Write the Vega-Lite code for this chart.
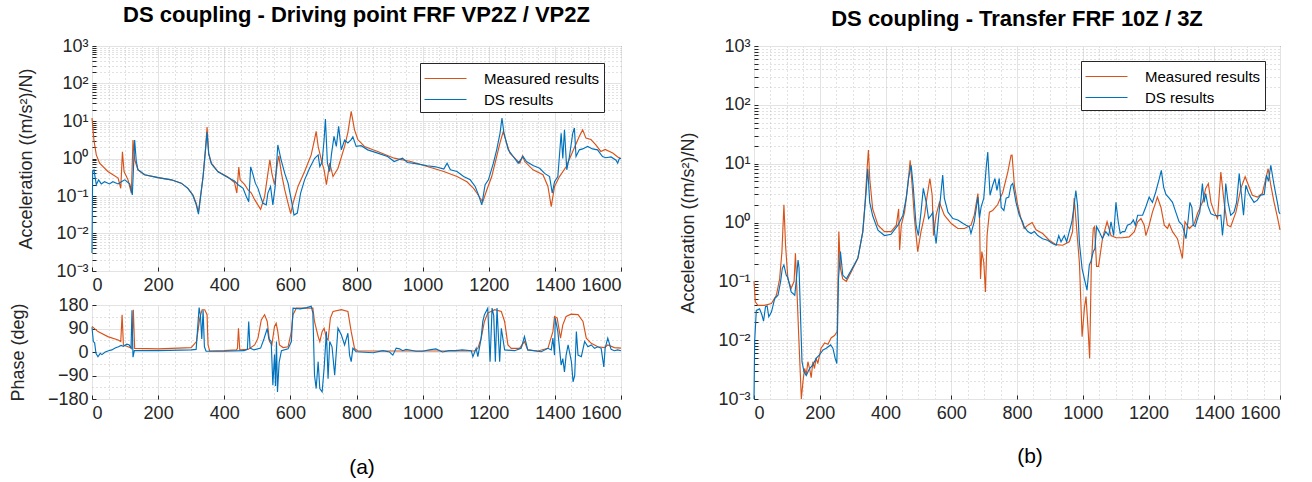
{
  "$schema": "https://vega.github.io/schema/vega-lite/v6.json",
  "background": "white",
  "padding": {"left": 8, "top": 3, "right": 0, "bottom": 0},
  "config": {
    "font": "Liberation Sans",
    "view": {"stroke": "#262626", "strokeWidth": 1},
    "axis": {"labelFontSize": 18, "labelColor": "#262626", "labelFont": "Liberation Sans", "titleFont": "Liberation Sans", "titleFontSize": 18, "titleFontWeight": "normal", "titleColor": "#262626", "domain": false, "ticks": true, "tickSize": -4, "tickColor": "#262626", "tickWidth": 1, "labelPadding": 9, "gridWidth": 1},
    "axisY": {"titlePadding": 20},
    "title": {"font": "Liberation Sans", "color": "#000000"},
    "legend": {"symbolType": "M-2,0H2", "symbolSize": 441, "symbolOffset": 10, "symbolStrokeWidth": 1.1, "labelFontSize": 15, "labelColor": "#000000", "labelOffset": 27, "rowPadding": 1, "padding": 4, "strokeColor": "#262626", "fillColor": "white", "title": null, "orient": "none"},
    "line": {"strokeWidth": 1.15, "clip": true}
  },
  "datasets": {
    "magA": [
      {"s":"M","f":0,"v":12},{"s":"M","f":6,"v":3},{"s":"M","f":13,"v":1.25},{"s":"M","f":23,"v":0.75},{"s":"M","f":48,"v":0.45},{"s":"M","f":79,"v":0.3},{"s":"M","f":87,"v":0.16},{"s":"M","f":92,"v":1.5},{"s":"M","f":97,"v":0.45},{"s":"M","f":109,"v":0.27},{"s":"M","f":119,"v":0.12},{"s":"M","f":124,"v":3.1},{"s":"M","f":129,"v":0.93},{"s":"M","f":139,"v":0.5},{"s":"M","f":159,"v":0.37},{"s":"M","f":200,"v":0.31},{"s":"M","f":240,"v":0.27},{"s":"M","f":270,"v":0.22},{"s":"M","f":290,"v":0.16},{"s":"M","f":305,"v":0.107},{"s":"M","f":315,"v":0.064},{"s":"M","f":322,"v":0.038},{"s":"M","f":336,"v":0.33},{"s":"M","f":343,"v":1.7},{"s":"M","f":348,"v":6.9},{"s":"M","f":353,"v":1.39},{"s":"M","f":361,"v":0.75},{"s":"M","f":381,"v":0.45},{"s":"M","f":411,"v":0.32},{"s":"M","f":431,"v":0.23},{"s":"M","f":438,"v":0.12},{"s":"M","f":444,"v":0.59},{"s":"M","f":448,"v":0.27},{"s":"M","f":462,"v":0.2},{"s":"M","f":472,"v":0.145},{"s":"M","f":482,"v":0.12},{"s":"M","f":492,"v":0.08},{"s":"M","f":510,"v":0.044},{"s":"M","f":522,"v":0.096},{"s":"M","f":532,"v":0.4},{"s":"M","f":538,"v":0.92},{"s":"M","f":544,"v":0.4},{"s":"M","f":552,"v":0.2},{"s":"M","f":561,"v":0.75},{"s":"M","f":565,"v":1.18},{"s":"M","f":573,"v":0.4},{"s":"M","f":583,"v":0.145},{"s":"M","f":593,"v":0.064},{"s":"M","f":601,"v":0.034},{"s":"M","f":608,"v":0.064},{"s":"M","f":623,"v":0.18},{"s":"M","f":643,"v":0.45},{"s":"M","f":663,"v":1.25},{"s":"M","f":673,"v":3.2},{"s":"M","f":678,"v":5.3},{"s":"M","f":684,"v":2.1},{"s":"M","f":696,"v":0.75},{"s":"M","f":702,"v":0.5},{"s":"M","f":709,"v":0.2},{"s":"M","f":719,"v":0.75},{"s":"M","f":729,"v":0.33},{"s":"M","f":744,"v":0.55},{"s":"M","f":764,"v":2.1},{"s":"M","f":774,"v":5},{"s":"M","f":784,"v":18},{"s":"M","f":794,"v":5.8},{"s":"M","f":804,"v":3.2},{"s":"M","f":824,"v":2.1},{"s":"M","f":864,"v":1.54},{"s":"M","f":914,"v":1.02},{"s":"M","f":964,"v":0.83},{"s":"M","f":1014,"v":0.61},{"s":"M","f":1064,"v":0.45},{"s":"M","f":1104,"v":0.33},{"s":"M","f":1134,"v":0.24},{"s":"M","f":1154,"v":0.16},{"s":"M","f":1164,"v":0.12},{"s":"M","f":1174,"v":0.087},{"s":"M","f":1182,"v":0.07},{"s":"M","f":1194,"v":0.145},{"s":"M","f":1209,"v":0.33},{"s":"M","f":1224,"v":1.13},{"s":"M","f":1234,"v":2.6},{"s":"M","f":1244,"v":5.3},{"s":"M","f":1254,"v":2.6},{"s":"M","f":1264,"v":1.39},{"s":"M","f":1284,"v":0.92},{"s":"M","f":1294,"v":0.75},{"s":"M","f":1302,"v":1.18},{"s":"M","f":1309,"v":0.83},{"s":"M","f":1334,"v":0.5},{"s":"M","f":1364,"v":0.37},{"s":"M","f":1379,"v":0.18},{"s":"M","f":1389,"v":0.052},{"s":"M","f":1399,"v":0.18},{"s":"M","f":1414,"v":0.33},{"s":"M","f":1434,"v":0.6},{"s":"M","f":1454,"v":1.54},{"s":"M","f":1474,"v":3.9},{"s":"M","f":1484,"v":5.8},{"s":"M","f":1494,"v":3.5},{"s":"M","f":1509,"v":3.2},{"s":"M","f":1524,"v":2.3},{"s":"M","f":1539,"v":1.54},{"s":"M","f":1552,"v":1.75},{"s":"M","f":1575,"v":1.4},{"s":"M","f":1590,"v":1.1},{"s":"M","f":1600,"v":1.0},
      {"s":"D","f":0,"v":0.003},{"s":"D","f":2,"v":0.45},{"s":"D","f":6,"v":0.5},{"s":"D","f":13,"v":0.2},{"s":"D","f":20,"v":0.27},{"s":"D","f":28,"v":0.21},{"s":"D","f":38,"v":0.24},{"s":"D","f":53,"v":0.21},{"s":"D","f":63,"v":0.24},{"s":"D","f":79,"v":0.21},{"s":"D","f":89,"v":0.24},{"s":"D","f":99,"v":0.27},{"s":"D","f":114,"v":0.21},{"s":"D","f":122,"v":0.107},{"s":"D","f":129,"v":3.1},{"s":"D","f":134,"v":0.83},{"s":"D","f":139,"v":0.5},{"s":"D","f":159,"v":0.37},{"s":"D","f":200,"v":0.31},{"s":"D","f":240,"v":0.27},{"s":"D","f":270,"v":0.22},{"s":"D","f":290,"v":0.16},{"s":"D","f":305,"v":0.105},{"s":"D","f":315,"v":0.06},{"s":"D","f":322,"v":0.033},{"s":"D","f":336,"v":0.33},{"s":"D","f":343,"v":1.6},{"s":"D","f":348,"v":5},{"s":"D","f":353,"v":1.3},{"s":"D","f":361,"v":0.72},{"s":"D","f":381,"v":0.44},{"s":"D","f":411,"v":0.31},{"s":"D","f":431,"v":0.25},{"s":"D","f":442,"v":0.2},{"s":"D","f":457,"v":0.16},{"s":"D","f":467,"v":0.096},{"s":"D","f":474,"v":0.07},{"s":"D","f":480,"v":0.6},{"s":"D","f":487,"v":0.37},{"s":"D","f":494,"v":0.22},{"s":"D","f":502,"v":0.16},{"s":"D","f":510,"v":0.096},{"s":"D","f":517,"v":0.064},{"s":"D","f":527,"v":0.058},{"s":"D","f":532,"v":0.12},{"s":"D","f":540,"v":0.18},{"s":"D","f":547,"v":0.058},{"s":"D","f":554,"v":0.18},{"s":"D","f":562,"v":2.3},{"s":"D","f":572,"v":0.92},{"s":"D","f":583,"v":0.4},{"s":"D","f":593,"v":0.22},{"s":"D","f":603,"v":0.078},{"s":"D","f":611,"v":0.031},{"s":"D","f":621,"v":0.035},{"s":"D","f":631,"v":0.12},{"s":"D","f":643,"v":0.27},{"s":"D","f":658,"v":0.55},{"s":"D","f":673,"v":1.0},{"s":"D","f":684,"v":1.25},{"s":"D","f":689,"v":0.61},{"s":"D","f":696,"v":0.8},{"s":"D","f":702,"v":3.2},{"s":"D","f":706,"v":11.3},{"s":"D","f":712,"v":0.75},{"s":"D","f":719,"v":0.45},{"s":"D","f":724,"v":1.25},{"s":"D","f":732,"v":3.9},{"s":"D","f":739,"v":2.1},{"s":"D","f":746,"v":7.2},{"s":"D","f":754,"v":1.7},{"s":"D","f":764,"v":3.1},{"s":"D","f":774,"v":2.6},{"s":"D","f":784,"v":3.2},{"s":"D","f":789,"v":3.8},{"s":"D","f":799,"v":2.1},{"s":"D","f":814,"v":2.2},{"s":"D","f":834,"v":1.7},{"s":"D","f":864,"v":1.39},{"s":"D","f":894,"v":1.13},{"s":"D","f":914,"v":0.83},{"s":"D","f":939,"v":1.02},{"s":"D","f":954,"v":0.78},{"s":"D","f":984,"v":0.72},{"s":"D","f":1014,"v":0.64},{"s":"D","f":1039,"v":0.6},{"s":"D","f":1064,"v":0.52},{"s":"D","f":1074,"v":0.75},{"s":"D","f":1084,"v":0.5},{"s":"D","f":1104,"v":0.45},{"s":"D","f":1124,"v":0.33},{"s":"D","f":1144,"v":0.27},{"s":"D","f":1159,"v":0.18},{"s":"D","f":1169,"v":0.107},{"s":"D","f":1179,"v":0.058},{"s":"D","f":1189,"v":0.2},{"s":"D","f":1199,"v":0.27},{"s":"D","f":1214,"v":0.75},{"s":"D","f":1224,"v":1.7},{"s":"D","f":1234,"v":4.7},{"s":"D","f":1240,"v":12},{"s":"D","f":1246,"v":4.7},{"s":"D","f":1259,"v":1.7},{"s":"D","f":1274,"v":1.13},{"s":"D","f":1289,"v":0.75},{"s":"D","f":1304,"v":1.13},{"s":"D","f":1314,"v":0.83},{"s":"D","f":1334,"v":0.65},{"s":"D","f":1354,"v":0.55},{"s":"D","f":1369,"v":0.4},{"s":"D","f":1384,"v":0.33},{"s":"D","f":1392,"v":0.12},{"s":"D","f":1399,"v":0.24},{"s":"D","f":1409,"v":0.33},{"s":"D","f":1419,"v":4.7},{"s":"D","f":1424,"v":1.0},{"s":"D","f":1429,"v":5.8},{"s":"D","f":1436,"v":0.5},{"s":"D","f":1444,"v":1.13},{"s":"D","f":1454,"v":4.7},{"s":"D","f":1459,"v":6.5},{"s":"D","f":1464,"v":1.13},{"s":"D","f":1474,"v":1.7},{"s":"D","f":1484,"v":1.8},{"s":"D","f":1499,"v":2.1},{"s":"D","f":1514,"v":1.8},{"s":"D","f":1529,"v":1.7},{"s":"D","f":1544,"v":1.13},{"s":"D","f":1554,"v":1.05},{"s":"D","f":1570,"v":1.1},{"s":"D","f":1585,"v":0.9},{"s":"D","f":1590,"v":0.75},{"s":"D","f":1595,"v":1.0},{"s":"D","f":1600,"v":1.0}
    ],
    "phA": [
      {"s":"M","f":0,"v":98},{"s":"M","f":18,"v":78},{"s":"M","f":48,"v":59},{"s":"M","f":79,"v":46},{"s":"M","f":87,"v":40},{"s":"M","f":91,"v":143},{"s":"M","f":95,"v":27},{"s":"M","f":109,"v":20},{"s":"M","f":121,"v":14},{"s":"M","f":125,"v":162},{"s":"M","f":129,"v":14},{"s":"M","f":200,"v":12},{"s":"M","f":300,"v":17},{"s":"M","f":316,"v":40},{"s":"M","f":326,"v":130},{"s":"M","f":333,"v":162},{"s":"M","f":341,"v":162},{"s":"M","f":348,"v":143},{"s":"M","f":351,"v":27},{"s":"M","f":356,"v":4},{"s":"M","f":400,"v":5},{"s":"M","f":437,"v":8},{"s":"M","f":440,"v":14},{"s":"M","f":443,"v":91},{"s":"M","f":447,"v":8},{"s":"M","f":472,"v":10},{"s":"M","f":492,"v":27},{"s":"M","f":502,"v":53},{"s":"M","f":512,"v":123},{"s":"M","f":522,"v":143},{"s":"M","f":530,"v":117},{"s":"M","f":537,"v":40},{"s":"M","f":544,"v":27},{"s":"M","f":552,"v":98},{"s":"M","f":557,"v":110},{"s":"M","f":562,"v":78},{"s":"M","f":567,"v":27},{"s":"M","f":578,"v":17},{"s":"M","f":593,"v":20},{"s":"M","f":603,"v":78},{"s":"M","f":608,"v":143},{"s":"M","f":618,"v":168},{"s":"M","f":643,"v":168},{"s":"M","f":668,"v":168},{"s":"M","f":673,"v":117},{"s":"M","f":684,"v":59},{"s":"M","f":689,"v":40},{"s":"M","f":696,"v":78},{"s":"M","f":702,"v":91},{"s":"M","f":709,"v":53},{"s":"M","f":714,"v":46},{"s":"M","f":721,"v":130},{"s":"M","f":729,"v":155},{"s":"M","f":754,"v":162},{"s":"M","f":774,"v":155},{"s":"M","f":784,"v":78},{"s":"M","f":794,"v":14},{"s":"M","f":804,"v":4},{"s":"M","f":1157,"v":4},{"s":"M","f":1167,"v":14},{"s":"M","f":1177,"v":53},{"s":"M","f":1187,"v":117},{"s":"M","f":1197,"v":149},{"s":"M","f":1218,"v":162},{"s":"M","f":1238,"v":155},{"s":"M","f":1248,"v":117},{"s":"M","f":1258,"v":27},{"s":"M","f":1268,"v":14},{"s":"M","f":1293,"v":14},{"s":"M","f":1308,"v":40},{"s":"M","f":1318,"v":8},{"s":"M","f":1349,"v":4},{"s":"M","f":1379,"v":14},{"s":"M","f":1394,"v":78},{"s":"M","f":1399,"v":136},{"s":"M","f":1407,"v":130},{"s":"M","f":1417,"v":53},{"s":"M","f":1424,"v":104},{"s":"M","f":1434,"v":136},{"s":"M","f":1449,"v":145},{"s":"M","f":1470,"v":143},{"s":"M","f":1485,"v":117},{"s":"M","f":1495,"v":53},{"s":"M","f":1510,"v":33},{"s":"M","f":1530,"v":20},{"s":"M","f":1550,"v":17},{"s":"M","f":1560,"v":27},{"s":"M","f":1580,"v":17},{"s":"M","f":1600,"v":15},
      {"s":"D","f":0,"v":95},{"s":"D","f":4,"v":40},{"s":"D","f":8,"v":35},{"s":"D","f":12,"v":-5},{"s":"D","f":18,"v":-18},{"s":"D","f":25,"v":-5},{"s":"D","f":30,"v":-10},{"s":"D","f":40,"v":0},{"s":"D","f":50,"v":5},{"s":"D","f":60,"v":8},{"s":"D","f":70,"v":15},{"s":"D","f":80,"v":20},{"s":"D","f":88,"v":25},{"s":"D","f":95,"v":22},{"s":"D","f":105,"v":30},{"s":"D","f":112,"v":28},{"s":"D","f":118,"v":15},{"s":"D","f":121,"v":160},{"s":"D","f":124,"v":-20},{"s":"D","f":128,"v":5},{"s":"D","f":200,"v":5},{"s":"D","f":300,"v":8},{"s":"D","f":315,"v":10},{"s":"D","f":320,"v":100},{"s":"D","f":324,"v":170},{"s":"D","f":328,"v":140},{"s":"D","f":332,"v":50},{"s":"D","f":336,"v":160},{"s":"D","f":340,"v":20},{"s":"D","f":345,"v":3},{"s":"D","f":400,"v":3},{"s":"D","f":460,"v":5},{"s":"D","f":470,"v":10},{"s":"D","f":474,"v":117},{"s":"D","f":478,"v":15},{"s":"D","f":490,"v":8},{"s":"D","f":510,"v":15},{"s":"D","f":520,"v":50},{"s":"D","f":530,"v":90},{"s":"D","f":535,"v":50},{"s":"D","f":542,"v":40},{"s":"D","f":547,"v":-127},{"s":"D","f":552,"v":-10},{"s":"D","f":555,"v":-130},{"s":"D","f":558,"v":40},{"s":"D","f":561,"v":-153},{"s":"D","f":566,"v":-40},{"s":"D","f":573,"v":5},{"s":"D","f":593,"v":12},{"s":"D","f":603,"v":40},{"s":"D","f":608,"v":168},{"s":"D","f":630,"v":165},{"s":"D","f":650,"v":170},{"s":"D","f":663,"v":175},{"s":"D","f":668,"v":150},{"s":"D","f":673,"v":-89},{"s":"D","f":678,"v":-140},{"s":"D","f":684,"v":-37},{"s":"D","f":689,"v":-140},{"s":"D","f":696,"v":-153},{"s":"D","f":702,"v":-63},{"s":"D","f":709,"v":78},{"s":"D","f":714,"v":-102},{"s":"D","f":719,"v":40},{"s":"D","f":726,"v":20},{"s":"D","f":734,"v":-89},{"s":"D","f":744,"v":91},{"s":"D","f":754,"v":66},{"s":"D","f":764,"v":27},{"s":"D","f":774,"v":72},{"s":"D","f":779,"v":-12},{"s":"D","f":784,"v":-37},{"s":"D","f":789,"v":14},{"s":"D","f":799,"v":1},{"s":"D","f":850,"v":-3},{"s":"D","f":880,"v":5},{"s":"D","f":900,"v":0},{"s":"D","f":910,"v":-12},{"s":"D","f":920,"v":15},{"s":"D","f":930,"v":12},{"s":"D","f":940,"v":5},{"s":"D","f":950,"v":10},{"s":"D","f":980,"v":3},{"s":"D","f":1000,"v":3},{"s":"D","f":1020,"v":8},{"s":"D","f":1040,"v":12},{"s":"D","f":1060,"v":0},{"s":"D","f":1080,"v":5},{"s":"D","f":1100,"v":5},{"s":"D","f":1120,"v":8},{"s":"D","f":1147,"v":5},{"s":"D","f":1152,"v":-18},{"s":"D","f":1162,"v":14},{"s":"D","f":1167,"v":-18},{"s":"D","f":1177,"v":53},{"s":"D","f":1182,"v":117},{"s":"D","f":1187,"v":143},{"s":"D","f":1197,"v":168},{"s":"D","f":1204,"v":-37},{"s":"D","f":1210,"v":168},{"s":"D","f":1215,"v":140},{"s":"D","f":1220,"v":-37},{"s":"D","f":1225,"v":168},{"s":"D","f":1233,"v":-37},{"s":"D","f":1238,"v":91},{"s":"D","f":1248,"v":8},{"s":"D","f":1278,"v":5},{"s":"D","f":1298,"v":14},{"s":"D","f":1308,"v":59},{"s":"D","f":1318,"v":8},{"s":"D","f":1359,"v":1},{"s":"D","f":1379,"v":14},{"s":"D","f":1389,"v":8},{"s":"D","f":1394,"v":53},{"s":"D","f":1399,"v":-12},{"s":"D","f":1401,"v":130},{"s":"D","f":1409,"v":78},{"s":"D","f":1414,"v":14},{"s":"D","f":1419,"v":-50},{"s":"D","f":1424,"v":-25},{"s":"D","f":1429,"v":-76},{"s":"D","f":1434,"v":-12},{"s":"D","f":1440,"v":27},{"s":"D","f":1450,"v":-37},{"s":"D","f":1455,"v":-114},{"s":"D","f":1460,"v":-90},{"s":"D","f":1465,"v":78},{"s":"D","f":1470,"v":-12},{"s":"D","f":1480,"v":-18},{"s":"D","f":1490,"v":40},{"s":"D","f":1500,"v":20},{"s":"D","f":1510,"v":27},{"s":"D","f":1520,"v":14},{"s":"D","f":1530,"v":20},{"s":"D","f":1540,"v":14},{"s":"D","f":1548,"v":-57},{"s":"D","f":1552,"v":14},{"s":"D","f":1560,"v":53},{"s":"D","f":1570,"v":10},{"s":"D","f":1580,"v":5},{"s":"D","f":1590,"v":8},{"s":"D","f":1600,"v":5}
    ],
    "magB": [
      {"s":"M","f":0,"v":0.1},{"s":"M","f":4,"v":0.045},{"s":"M","f":12,"v":0.039},{"s":"M","f":32,"v":0.039},{"s":"M","f":53,"v":0.042},{"s":"M","f":68,"v":0.058},{"s":"M","f":78,"v":0.11},{"s":"M","f":85,"v":0.32},{"s":"M","f":91,"v":2.0},{"s":"M","f":96,"v":0.41},{"s":"M","f":103,"v":0.11},{"s":"M","f":113,"v":0.076},{"s":"M","f":122,"v":0.1},{"s":"M","f":126,"v":0.3},{"s":"M","f":130,"v":0.085},{"s":"M","f":136,"v":0.012},{"s":"M","f":141,"v":0.0026},{"s":"M","f":144,"v":0.001},{"s":"M","f":149,"v":0.002},{"s":"M","f":154,"v":0.0033},{"s":"M","f":159,"v":0.0026},{"s":"M","f":164,"v":0.0043},{"s":"M","f":169,"v":0.0033},{"s":"M","f":174,"v":0.0023},{"s":"M","f":179,"v":0.0043},{"s":"M","f":184,"v":0.0033},{"s":"M","f":189,"v":0.005},{"s":"M","f":194,"v":0.004},{"s":"M","f":204,"v":0.0073},{"s":"M","f":215,"v":0.009},{"s":"M","f":225,"v":0.0085},{"s":"M","f":235,"v":0.011},{"s":"M","f":245,"v":0.012},{"s":"M","f":253,"v":0.014},{"s":"M","f":258,"v":0.7},{"s":"M","f":263,"v":0.165},{"s":"M","f":270,"v":0.11},{"s":"M","f":281,"v":0.1},{"s":"M","f":296,"v":0.145},{"s":"M","f":316,"v":0.245},{"s":"M","f":331,"v":0.7},{"s":"M","f":338,"v":2.2},{"s":"M","f":344,"v":8.2},{"s":"M","f":348,"v":17},{"s":"M","f":352,"v":5.6},{"s":"M","f":361,"v":1.7},{"s":"M","f":377,"v":0.9},{"s":"M","f":397,"v":0.7},{"s":"M","f":417,"v":0.7},{"s":"M","f":433,"v":0.9},{"s":"M","f":440,"v":1.7},{"s":"M","f":443,"v":0.34},{"s":"M","f":448,"v":0.9},{"s":"M","f":458,"v":1.5},{"s":"M","f":468,"v":4.3},{"s":"M","f":475,"v":11.4},{"s":"M","f":481,"v":4.3},{"s":"M","f":488,"v":1.17},{"s":"M","f":498,"v":0.32},{"s":"M","f":508,"v":0.7},{"s":"M","f":519,"v":1.33},{"s":"M","f":527,"v":2.9},{"s":"M","f":535,"v":5.6},{"s":"M","f":542,"v":2.9},{"s":"M","f":546,"v":0.6},{"s":"M","f":554,"v":1.33},{"s":"M","f":564,"v":2.2},{"s":"M","f":579,"v":1.33},{"s":"M","f":600,"v":0.96},{"s":"M","f":620,"v":0.79},{"s":"M","f":640,"v":0.79},{"s":"M","f":660,"v":0.9},{"s":"M","f":670,"v":1.33},{"s":"M","f":681,"v":3.1},{"s":"M","f":686,"v":1.17},{"s":"M","f":689,"v":0.11},{"s":"M","f":693,"v":0.32},{"s":"M","f":699,"v":0.21},{"s":"M","f":704,"v":0.066},{"s":"M","f":709,"v":0.6},{"s":"M","f":716,"v":1.5},{"s":"M","f":726,"v":1.6},{"s":"M","f":741,"v":2.0},{"s":"M","f":757,"v":3.3},{"s":"M","f":772,"v":7.2},{"s":"M","f":782,"v":13.9},{"s":"M","f":785,"v":14},{"s":"M","f":792,"v":4.3},{"s":"M","f":802,"v":2.0},{"s":"M","f":812,"v":1.17},{"s":"M","f":822,"v":0.79},{"s":"M","f":833,"v":0.9},{"s":"M","f":846,"v":1.0},{"s":"M","f":858,"v":0.75},{"s":"M","f":878,"v":0.65},{"s":"M","f":898,"v":0.5},{"s":"M","f":919,"v":0.42},{"s":"M","f":939,"v":0.41},{"s":"M","f":959,"v":0.47},{"s":"M","f":969,"v":0.7},{"s":"M","f":974,"v":2.6},{"s":"M","f":979,"v":1.17},{"s":"M","f":990,"v":0.2},{"s":"M","f":998,"v":0.0114},{"s":"M","f":1005,"v":0.035},{"s":"M","f":1010,"v":0.055},{"s":"M","f":1016,"v":0.016},{"s":"M","f":1021,"v":0.0049},{"s":"M","f":1026,"v":0.18},{"s":"M","f":1032,"v":0.79},{"s":"M","f":1036,"v":0.85},{"s":"M","f":1042,"v":0.18},{"s":"M","f":1048,"v":0.18},{"s":"M","f":1060,"v":0.53},{"s":"M","f":1074,"v":1.03},{"s":"M","f":1086,"v":0.6},{"s":"M","f":1101,"v":0.55},{"s":"M","f":1121,"v":0.55},{"s":"M","f":1141,"v":0.57},{"s":"M","f":1157,"v":0.7},{"s":"M","f":1167,"v":1.03},{"s":"M","f":1177,"v":1.17},{"s":"M","f":1187,"v":0.9},{"s":"M","f":1192,"v":0.6},{"s":"M","f":1202,"v":0.9},{"s":"M","f":1212,"v":1.5},{"s":"M","f":1222,"v":2.2},{"s":"M","f":1227,"v":2.7},{"s":"M","f":1238,"v":1.8},{"s":"M","f":1248,"v":0.9},{"s":"M","f":1258,"v":0.79},{"s":"M","f":1263,"v":0.95},{"s":"M","f":1273,"v":0.7},{"s":"M","f":1288,"v":0.53},{"s":"M","f":1298,"v":0.32},{"s":"M","f":1303,"v":0.245},{"s":"M","f":1311,"v":1.03},{"s":"M","f":1324,"v":0.79},{"s":"M","f":1339,"v":0.95},{"s":"M","f":1349,"v":1.42},{"s":"M","f":1364,"v":2.2},{"s":"M","f":1374,"v":3.8},{"s":"M","f":1382,"v":4.6},{"s":"M","f":1390,"v":2.2},{"s":"M","f":1400,"v":1.5},{"s":"M","f":1410,"v":1.17},{"s":"M","f":1420,"v":7.2},{"s":"M","f":1430,"v":2.2},{"s":"M","f":1440,"v":0.9},{"s":"M","f":1450,"v":0.85},{"s":"M","f":1466,"v":1.5},{"s":"M","f":1481,"v":3.8},{"s":"M","f":1494,"v":6.0},{"s":"M","f":1504,"v":4.3},{"s":"M","f":1516,"v":2.9},{"s":"M","f":1531,"v":2.7},{"s":"M","f":1546,"v":3.1},{"s":"M","f":1557,"v":5.6},{"s":"M","f":1564,"v":8.2},{"s":"M","f":1572,"v":4.3},{"s":"M","f":1582,"v":2.2},{"s":"M","f":1592,"v":1.25},{"s":"M","f":1600,"v":0.75},
      {"s":"D","f":0,"v":0.001},{"s":"D","f":2,"v":0.0094},{"s":"D","f":7,"v":0.032},{"s":"D","f":17,"v":0.034},{"s":"D","f":24,"v":0.027},{"s":"D","f":29,"v":0.021},{"s":"D","f":35,"v":0.037},{"s":"D","f":40,"v":0.038},{"s":"D","f":45,"v":0.025},{"s":"D","f":53,"v":0.03},{"s":"D","f":63,"v":0.051},{"s":"D","f":73,"v":0.058},{"s":"D","f":81,"v":0.1},{"s":"D","f":86,"v":0.165},{"s":"D","f":91,"v":0.19},{"s":"D","f":98,"v":0.128},{"s":"D","f":103,"v":0.115},{"s":"D","f":113,"v":0.066},{"s":"D","f":124,"v":0.058},{"s":"D","f":129,"v":0.11},{"s":"D","f":134,"v":0.23},{"s":"D","f":137,"v":0.17},{"s":"D","f":142,"v":0.021},{"s":"D","f":146,"v":0.0043},{"s":"D","f":152,"v":0.0029},{"s":"D","f":159,"v":0.0025},{"s":"D","f":169,"v":0.0033},{"s":"D","f":179,"v":0.0038},{"s":"D","f":189,"v":0.0049},{"s":"D","f":199,"v":0.0056},{"s":"D","f":210,"v":0.0068},{"s":"D","f":220,"v":0.0073},{"s":"D","f":233,"v":0.0083},{"s":"D","f":240,"v":0.0073},{"s":"D","f":247,"v":0.0049},{"s":"D","f":252,"v":0.004},{"s":"D","f":257,"v":0.11},{"s":"D","f":263,"v":0.32},{"s":"D","f":270,"v":0.128},{"s":"D","f":281,"v":0.11},{"s":"D","f":296,"v":0.155},{"s":"D","f":316,"v":0.25},{"s":"D","f":331,"v":0.7},{"s":"D","f":341,"v":3.3},{"s":"D","f":346,"v":8.2},{"s":"D","f":352,"v":2.2},{"s":"D","f":361,"v":1.3},{"s":"D","f":377,"v":0.74},{"s":"D","f":397,"v":0.6},{"s":"D","f":417,"v":0.63},{"s":"D","f":438,"v":0.9},{"s":"D","f":453,"v":1.33},{"s":"D","f":463,"v":2.6},{"s":"D","f":470,"v":5.6},{"s":"D","f":478,"v":9.4},{"s":"D","f":484,"v":4.3},{"s":"D","f":493,"v":0.9},{"s":"D","f":500,"v":0.6},{"s":"D","f":508,"v":1.5},{"s":"D","f":515,"v":3.8},{"s":"D","f":524,"v":2.2},{"s":"D","f":531,"v":1.17},{"s":"D","f":539,"v":1.33},{"s":"D","f":544,"v":1.5},{"s":"D","f":549,"v":0.7},{"s":"D","f":554,"v":0.44},{"s":"D","f":562,"v":1.33},{"s":"D","f":569,"v":3.3},{"s":"D","f":574,"v":6.4},{"s":"D","f":579,"v":2.6},{"s":"D","f":590,"v":1.5},{"s":"D","f":605,"v":1.17},{"s":"D","f":620,"v":1.1},{"s":"D","f":635,"v":0.97},{"s":"D","f":645,"v":0.9},{"s":"D","f":655,"v":0.85},{"s":"D","f":660,"v":0.65},{"s":"D","f":670,"v":1.03},{"s":"D","f":681,"v":2.7},{"s":"D","f":686,"v":1.2},{"s":"D","f":691,"v":1.85},{"s":"D","f":699,"v":2.6},{"s":"D","f":706,"v":8.2},{"s":"D","f":711,"v":15.8},{"s":"D","f":718,"v":2.9},{"s":"D","f":726,"v":4.3},{"s":"D","f":733,"v":5.6},{"s":"D","f":739,"v":3.5},{"s":"D","f":746,"v":5.6},{"s":"D","f":752,"v":1.8},{"s":"D","f":760,"v":1.6},{"s":"D","f":767,"v":2.6},{"s":"D","f":775,"v":2.7},{"s":"D","f":782,"v":4.3},{"s":"D","f":787,"v":4.6},{"s":"D","f":797,"v":2.2},{"s":"D","f":807,"v":1.33},{"s":"D","f":817,"v":1.03},{"s":"D","f":822,"v":0.84},{"s":"D","f":833,"v":0.7},{"s":"D","f":843,"v":0.65},{"s":"D","f":853,"v":0.7},{"s":"D","f":863,"v":0.6},{"s":"D","f":878,"v":0.53},{"s":"D","f":893,"v":0.5},{"s":"D","f":908,"v":0.44},{"s":"D","f":919,"v":0.41},{"s":"D","f":927,"v":0.6},{"s":"D","f":934,"v":0.47},{"s":"D","f":944,"v":0.6},{"s":"D","f":951,"v":0.47},{"s":"D","f":959,"v":0.7},{"s":"D","f":967,"v":1.03},{"s":"D","f":974,"v":2.0},{"s":"D","f":979,"v":3.5},{"s":"D","f":984,"v":2.0},{"s":"D","f":990,"v":0.44},{"s":"D","f":998,"v":0.165},{"s":"D","f":1005,"v":0.11},{"s":"D","f":1013,"v":0.071},{"s":"D","f":1020,"v":0.19},{"s":"D","f":1025,"v":0.22},{"s":"D","f":1032,"v":0.32},{"s":"D","f":1037,"v":0.36},{"s":"D","f":1042,"v":0.85},{"s":"D","f":1050,"v":0.7},{"s":"D","f":1060,"v":0.53},{"s":"D","f":1070,"v":0.7},{"s":"D","f":1079,"v":0.6},{"s":"D","f":1086,"v":1.03},{"s":"D","f":1094,"v":0.6},{"s":"D","f":1101,"v":2.2},{"s":"D","f":1108,"v":1.03},{"s":"D","f":1114,"v":0.65},{"s":"D","f":1121,"v":0.7},{"s":"D","f":1128,"v":0.7},{"s":"D","f":1136,"v":0.9},{"s":"D","f":1146,"v":0.95},{"s":"D","f":1154,"v":1.1},{"s":"D","f":1160,"v":0.9},{"s":"D","f":1167,"v":1.33},{"s":"D","f":1182,"v":1.33},{"s":"D","f":1192,"v":1.85},{"s":"D","f":1202,"v":2.7},{"s":"D","f":1212,"v":2.2},{"s":"D","f":1222,"v":3.3},{"s":"D","f":1233,"v":5.6},{"s":"D","f":1239,"v":7.7},{"s":"D","f":1246,"v":4.0},{"s":"D","f":1253,"v":3.0},{"s":"D","f":1263,"v":2.6},{"s":"D","f":1273,"v":2.2},{"s":"D","f":1283,"v":1.5},{"s":"D","f":1293,"v":1.03},{"s":"D","f":1303,"v":0.9},{"s":"D","f":1314,"v":0.53},{"s":"D","f":1321,"v":1.17},{"s":"D","f":1326,"v":2.2},{"s":"D","f":1332,"v":1.8},{"s":"D","f":1336,"v":0.9},{"s":"D","f":1342,"v":0.85},{"s":"D","f":1349,"v":1.17},{"s":"D","f":1356,"v":1.5},{"s":"D","f":1364,"v":4.6},{"s":"D","f":1369,"v":2.2},{"s":"D","f":1374,"v":3.1},{"s":"D","f":1381,"v":1.9},{"s":"D","f":1390,"v":1.4},{"s":"D","f":1400,"v":1.33},{"s":"D","f":1410,"v":1.3},{"s":"D","f":1420,"v":1.33},{"s":"D","f":1425,"v":0.6},{"s":"D","f":1430,"v":1.2},{"s":"D","f":1435,"v":4.6},{"s":"D","f":1442,"v":2.2},{"s":"D","f":1450,"v":1.33},{"s":"D","f":1460,"v":1.5},{"s":"D","f":1468,"v":2.2},{"s":"D","f":1476,"v":6.8},{"s":"D","f":1483,"v":2.9},{"s":"D","f":1489,"v":1.33},{"s":"D","f":1496,"v":4.3},{"s":"D","f":1504,"v":3.2},{"s":"D","f":1511,"v":2.7},{"s":"D","f":1521,"v":2.2},{"s":"D","f":1531,"v":2.4},{"s":"D","f":1541,"v":2.9},{"s":"D","f":1552,"v":3.0},{"s":"D","f":1559,"v":6.4},{"s":"D","f":1565,"v":5.0},{"s":"D","f":1572,"v":9.4},{"s":"D","f":1582,"v":4.3},{"s":"D","f":1592,"v":2.2},{"s":"D","f":1597,"v":1.5},{"s":"D","f":1600,"v":1.4}
    ]
  },
  "resolve": {"scale": {"color": "independent"}, "legend": {"color": "independent"}},
  "align": "none",
  "spacing": 55,
  "hconcat": [
    {
      "title": {"text": "(a)", "orient": "bottom", "anchor": "middle", "frame": "group", "fontSize": 21, "fontWeight": "normal", "offset": 34, "dx": 270},
      "spacing": 0,
      "resolve": {"scale": {"color": "independent"}, "legend": {"color": "independent"}},
      "vconcat": [
        {
          "title": {"text": "DS coupling - Driving point FRF VP2Z / VP2Z", "fontSize": 22, "fontWeight": "bold", "frame": "group", "offset": 10},
          "width": 529, "height": 225,
          "data": {"name": "magA"},
          "encoding": {
            "x": {"field": "f", "type": "quantitative", "scale": {"domain": [0, 1600], "nice": false},
              "axis": {"title": null, "format": "d", "values": [0,50,100,150,200,250,300,350,400,450,500,550,600,650,700,750,800,850,900,950,1000,1050,1100,1150,1200,1250,1300,1350,1400,1450,1500,1550,1600],
                "labelExpr": "datum.value % 200 == 0 ? datum.label : ''",
                "tickOpacity": {"condition": {"test": "datum.value % 200 == 0", "value": 1}, "value": 0},
                "gridColor": {"condition": {"test": "datum.value % 200 == 0", "value": "#e3e3e3"}, "value": "#c4c4c4"},
                "gridDash": {"condition": {"test": "datum.value % 200 == 0", "value": []}, "value": [1, 3]}}},
            "y": {"field": "v", "type": "quantitative", "scale": {"type": "log", "domain": [0.001, 1000], "nice": false},
              "axis": {"title": "Acceleration ((m/s²)/N)", "labelPadding": 8, "values": [0.001,0.002,0.003,0.004,0.005,0.006,0.007,0.008,0.009,0.01,0.02,0.03,0.04,0.05,0.06,0.07,0.08,0.09,0.1,0.2,0.3,0.4,0.5,0.6,0.7,0.8,0.9,1,2,3,4,5,6,7,8,9,10,20,30,40,50,60,70,80,90,100,200,300,400,500,600,700,800,900,1000],
                "labelExpr": "abs(log(datum.value)/LN10 - round(log(datum.value)/LN10)) < 0.01 ? '10' + (round(log(datum.value)/LN10) < 0 ? '⁻' : '') + ['⁰','¹','²','³'][abs(round(log(datum.value)/LN10))] : ''",
                "gridColor": {"condition": {"test": "abs(log(datum.value)/LN10 - round(log(datum.value)/LN10)) < 0.01", "value": "#e3e3e3"}, "value": "#c4c4c4"},
                "gridDash": {"condition": {"test": "abs(log(datum.value)/LN10 - round(log(datum.value)/LN10)) < 0.01", "value": []}, "value": [1, 3]}}},
            "color": {"field": "s", "type": "nominal", "scale": {"domain": ["M", "D"], "range": ["#D95319", "#0072BD"]},
              "legend": {"legendX": 328, "legendY": 17, "labelExpr": "datum.label == 'M' ? 'Measured results' : 'DS results'"}}
          },
          "layer": [
            {"transform": [{"filter": "datum.s == 'M'"}], "mark": {"type": "line"}},
            {"transform": [{"filter": "datum.s == 'D'"}], "mark": {"type": "line"}}
          ]
        },
        {
          "width": 529, "height": 94,
          "data": {"name": "phA"},
          "encoding": {
            "x": {"field": "f", "type": "quantitative", "scale": {"domain": [0, 1600], "nice": false},
              "axis": {"title": null, "format": "d", "values": [0,50,100,150,200,250,300,350,400,450,500,550,600,650,700,750,800,850,900,950,1000,1050,1100,1150,1200,1250,1300,1350,1400,1450,1500,1550,1600],
                "labelExpr": "datum.value % 200 == 0 ? datum.label : ''",
                "tickOpacity": {"condition": {"test": "datum.value % 200 == 0", "value": 1}, "value": 0},
                "gridColor": {"condition": {"test": "datum.value % 200 == 0", "value": "#e3e3e3"}, "value": "#c4c4c4"},
                "gridDash": {"condition": {"test": "datum.value % 200 == 0", "value": []}, "value": [1, 3]}}},
            "y": {"field": "v", "type": "quantitative", "scale": {"domain": [-180, 180], "nice": false},
              "axis": {"title": "Phase (deg)", "labelPadding": 8, "format": "d", "values": [-180,-135,-90,-45,0,45,90,135,180],
                "labelExpr": "datum.value % 90 == 0 ? datum.label : ''",
                "tickOpacity": {"condition": {"test": "datum.value % 90 == 0", "value": 1}, "value": 0},
                "gridColor": {"condition": {"test": "datum.value % 90 == 0", "value": "#e3e3e3"}, "value": "#c4c4c4"},
                "gridDash": {"condition": {"test": "datum.value % 90 == 0", "value": []}, "value": [1, 3]}}},
            "color": {"field": "s", "type": "nominal", "scale": {"domain": ["M", "D"], "range": ["#D95319", "#0072BD"]}, "legend": null}
          },
          "layer": [
            {"transform": [{"filter": "datum.s == 'M'"}], "mark": {"type": "line"}},
            {"transform": [{"filter": "datum.s == 'D'"}], "mark": {"type": "line"}}
          ]
        }
      ]
    },
    {
      "title": {"text": "(b)", "orient": "bottom", "anchor": "middle", "frame": "group", "fontSize": 21, "fontWeight": "normal", "offset": 23, "dx": 276},
      "vconcat": [
        {
          "title": {"text": "DS coupling - Transfer FRF 10Z / 3Z", "fontSize": 22, "fontWeight": "bold", "frame": "group", "offset": 6},
          "width": 526, "height": 353,
          "data": {"name": "magB"},
          "encoding": {
            "x": {"field": "f", "type": "quantitative", "scale": {"domain": [0, 1600], "nice": false},
              "axis": {"title": null, "format": "d", "values": [0,50,100,150,200,250,300,350,400,450,500,550,600,650,700,750,800,850,900,950,1000,1050,1100,1150,1200,1250,1300,1350,1400,1450,1500,1550,1600],
                "labelExpr": "datum.value % 200 == 0 ? datum.label : ''",
                "tickOpacity": {"condition": {"test": "datum.value % 200 == 0", "value": 1}, "value": 0},
                "gridColor": {"condition": {"test": "datum.value % 200 == 0", "value": "#e3e3e3"}, "value": "#c4c4c4"},
                "gridDash": {"condition": {"test": "datum.value % 200 == 0", "value": []}, "value": [1, 3]}}},
            "y": {"field": "v", "type": "quantitative", "scale": {"type": "log", "domain": [0.001, 1000], "nice": false},
              "axis": {"title": "Acceleration ((m/s²)/N)", "labelPadding": 8, "values": [0.001,0.002,0.003,0.004,0.005,0.006,0.007,0.008,0.009,0.01,0.02,0.03,0.04,0.05,0.06,0.07,0.08,0.09,0.1,0.2,0.3,0.4,0.5,0.6,0.7,0.8,0.9,1,2,3,4,5,6,7,8,9,10,20,30,40,50,60,70,80,90,100,200,300,400,500,600,700,800,900,1000],
                "labelExpr": "abs(log(datum.value)/LN10 - round(log(datum.value)/LN10)) < 0.01 ? '10' + (round(log(datum.value)/LN10) < 0 ? '⁻' : '') + ['⁰','¹','²','³'][abs(round(log(datum.value)/LN10))] : ''",
                "gridColor": {"condition": {"test": "abs(log(datum.value)/LN10 - round(log(datum.value)/LN10)) < 0.01", "value": "#e3e3e3"}, "value": "#c4c4c4"},
                "gridDash": {"condition": {"test": "abs(log(datum.value)/LN10 - round(log(datum.value)/LN10)) < 0.01", "value": []}, "value": [1, 3]}}},
            "color": {"field": "s", "type": "nominal", "scale": {"domain": ["M", "D"], "range": ["#D95319", "#0072BD"]},
              "legend": {"legendX": 327, "legendY": 15, "labelExpr": "datum.label == 'M' ? 'Measured results' : 'DS results'"}}
          },
          "layer": [
            {"transform": [{"filter": "datum.s == 'M'"}], "mark": {"type": "line"}},
            {"transform": [{"filter": "datum.s == 'D'"}], "mark": {"type": "line"}}
          ]
        }
      ]
    }
  ]
}
